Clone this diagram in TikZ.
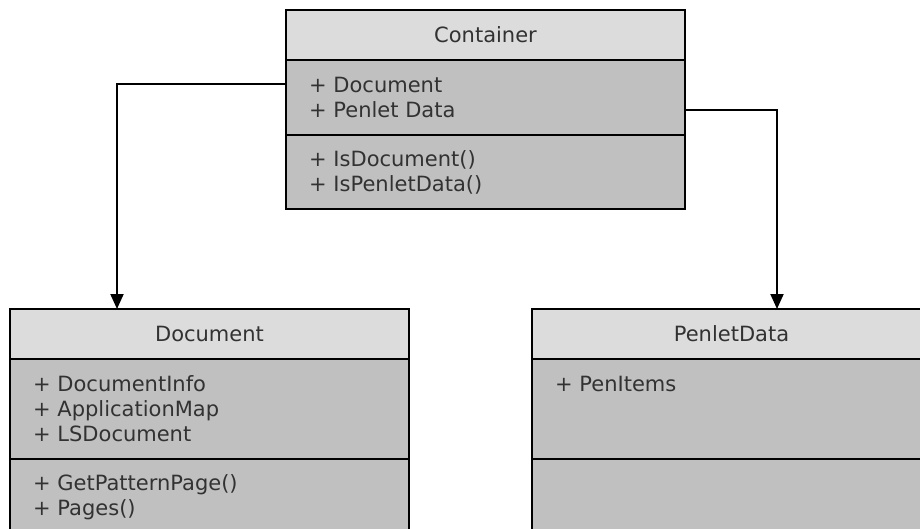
\documentclass[tikz,border=0pt]{standalone}
\usepackage{fontspec}
\setmainfont{DejaVu Sans}
\usepackage{tikz}
\usetikzlibrary{arrows.meta,positioning}
\definecolor{headgray}{RGB}{220,220,220}
\definecolor{partgray}{RGB}{192,192,192}
\definecolor{textgray}{RGB}{50,50,50}

\begin{document}
\begin{tikzpicture}[x=1pt,y=1pt,
  classhead/.style={draw=black,line width=2pt,fill=headgray,minimum width=399pt,minimum height=50pt,inner sep=0pt,outer sep=0pt,text=textgray,font=\fontsize{21}{25}\selectfont},
  classpart/.style={draw=black,line width=2pt,fill=partgray,minimum width=399pt,inner sep=0pt,outer sep=0pt},
  members/.style={anchor=north west,align=left,inner sep=0pt,text=textgray,font=\fontsize{21}{25}\selectfont,execute at begin node=\strut},
  assoc/.style={-{Triangle[length=15pt,width=13pt]},line width=2pt}]
\useasboundingbox (0,0) rectangle (920,-529);
\clip (0,0) rectangle (920,-529);

% Container class
\node[classhead] (conhead) at (485.5,-35) {Container};
\node[classpart,minimum height=75pt,below=0pt of conhead] (conattr) {};
\node[classpart,minimum height=74pt,below=0pt of conattr] (conmeth) {};
\node[members] (conattrtext) at ([shift={(23pt,-16.5pt)}]conattr.north west) {+ Document\\+ Penlet Data};
\node[members] (conmethtext) at ([shift={(23pt,-15pt)}]conmeth.north west) {+ IsDocument()\\+ IsPenletData()};

% Document class
\node[classhead] (dochead) at (209.5,-334) {Document};
\node[classpart,minimum height=100pt,below=0pt of dochead] (docattr) {};
\node[classpart,minimum height=100pt,below=0pt of docattr] (docmeth) {};
\node[members] (docattrtext) at ([shift={(23pt,-16pt)}]docattr.north west) {+ DocumentInfo\\+ ApplicationMap\\+ LSDocument};
\node[members] (docmethtext) at ([shift={(23pt,-15pt)}]docmeth.north west) {+ GetPatternPage()\\+ Pages()};

% PenletData class
\node[classhead] (penhead) at (731.5,-334) {PenletData};
\node[classpart,minimum height=100pt,below=0pt of penhead] (penattr) {};
\node[classpart,minimum height=100pt,below=0pt of penattr] (penmeth) {};
\node[members] (penattrtext) at ([shift={(23pt,-15pt)}]penattr.north west) {+ PenItems};

% associations
\coordinate (docin) at ([xshift=-92.5pt]dochead.north);
\coordinate (penin) at ([xshift=45.5pt]penhead.north);
\draw[assoc] ([yshift=13.5pt]conattr.west) -| (docin);
\draw[assoc] ([yshift=-12.5pt]conattr.east) -| (penin);
\end{tikzpicture}
\end{document}
